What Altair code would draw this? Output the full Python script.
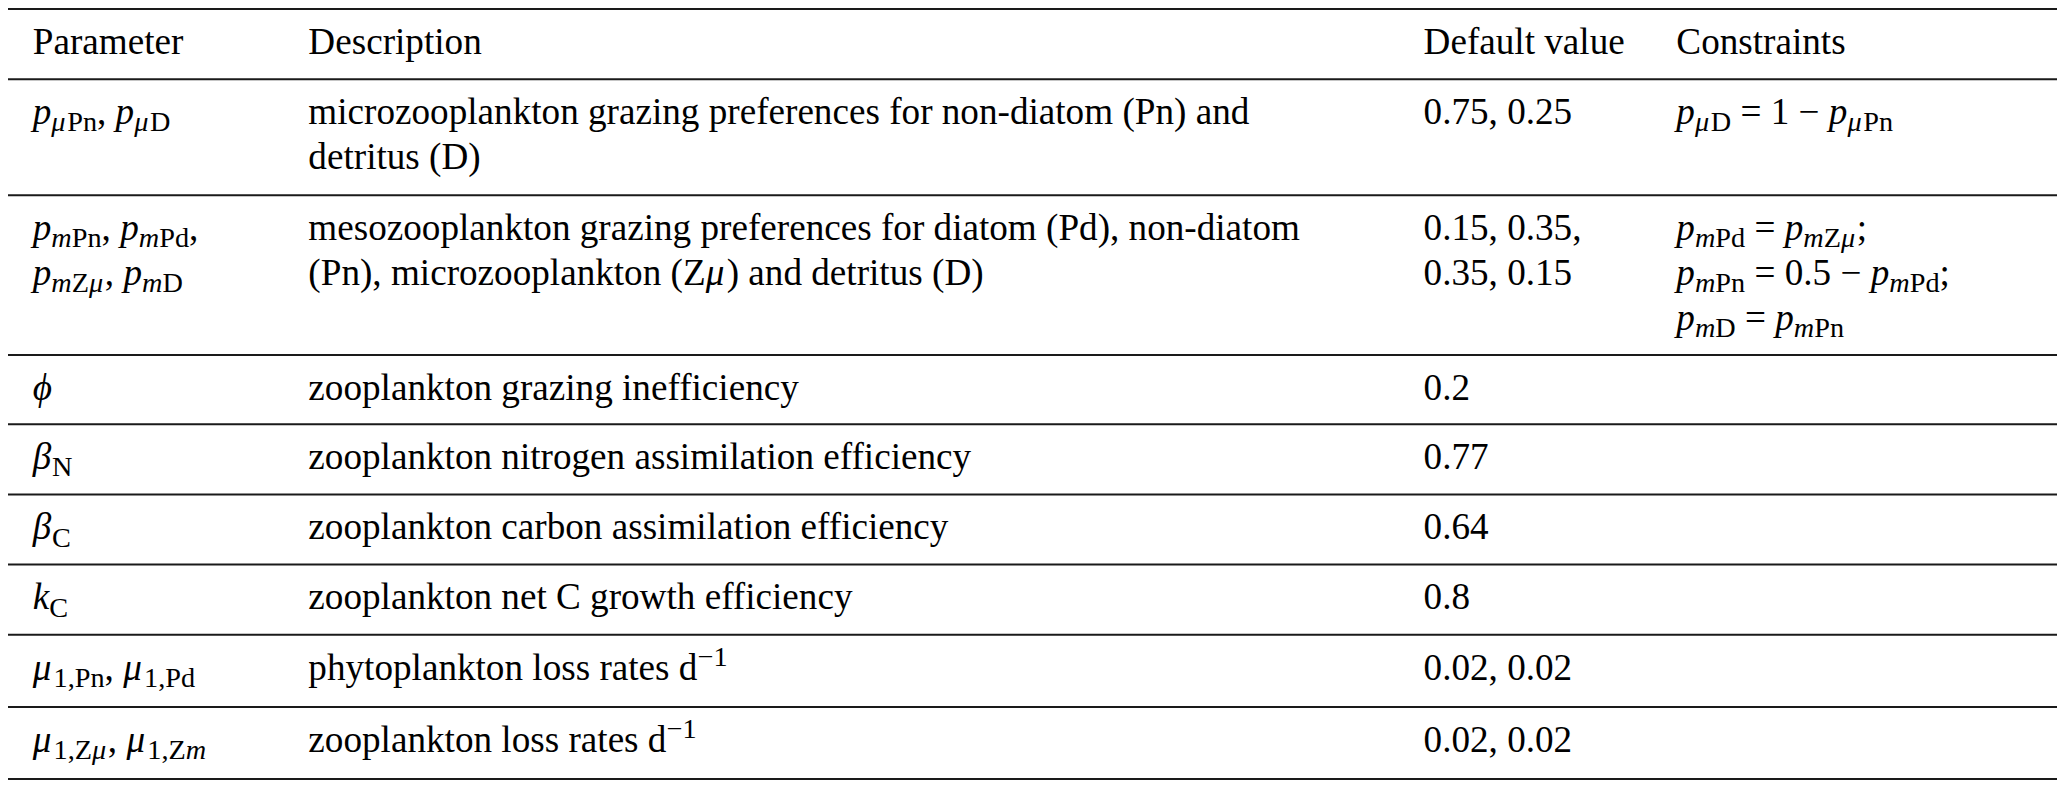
import altair as alt
import pandas as pd

# ---------------- table content ----------------
headers = ["Parameter", "Description", "Default value", "Constraints"]

parameters = [
    [r"$p_{μ\rm{Pn}}, p_{μ\rm{D}}$"],
    [r"$p_{m\rm{Pn}}, p_{m\rm{Pd}},$", r"$p_{m\rm{Z}μ}, p_{m\rm{D}}$"],
    [r"$ϕ$"],
    [r"$β_{\rm{N}}$"],
    [r"$β_{\rm{C}}$"],
    [r"$k_{\rm{C}}$"],
    [r"$μ_{1,\rm{Pn}}, μ_{1,\rm{Pd}}$"],
    [r"$μ_{1,\rm{Z}μ}, μ_{1,\rm{Z}m}$"],
]

descriptions = [
    ["microzooplankton grazing preferences for non-diatom (Pn) and", "detritus (D)"],
    ["mesozooplankton grazing preferences for diatom (Pd), non-diatom",
     "(Pn), microzooplankton (Z$μ$) and detritus (D)"],
    ["zooplankton grazing inefficiency"],
    ["zooplankton nitrogen assimilation efficiency"],
    ["zooplankton carbon assimilation efficiency"],
    ["zooplankton net C growth efficiency"],
    ["phytoplankton loss rates d$^{−1}$"],
    ["zooplankton loss rates d$^{−1}$"],
]

default_values = [
    ["0.75, 0.25"],
    ["0.15, 0.35,", "0.35, 0.15"],
    ["0.2"],
    ["0.77"],
    ["0.64"],
    ["0.8"],
    ["0.02, 0.02"],
    ["0.02, 0.02"],
]

constraints = [
    [r"$p_{μ\rm{D}} = 1 − p_{μ\rm{Pn}}$"],
    [r"$p_{m\rm{Pd}} = p_{m\rm{Z}μ};$", r"$p_{m\rm{Pn}} = 0.5 − p_{m\rm{Pd}};$",
     r"$p_{m\rm{D}} = p_{m\rm{Pn}}$"],
    [], [], [], [], [], [],
]

# ---------------- layout (reference pixel frame) ----------------
REF_W, REF_H = 2067, 794
W, H = 2049, 774
SX = W / REF_W
COL_X = [25, 303, 1428, 1683]
ROW_TOP = [1, 73, 192, 356, 427, 499, 571, 643, 717]
TABLE_BOTTOM = 791
FIRST_BASELINE = 46
LINE_GAP = 46
FS = 37.5
SUB_SCALE = 0.76
SUB_DY = 0.2
SUP_DY = -0.38

REG = {" ": 250, "(": 333, ")": 333, ",": 250, "-": 333, ".": 250, ";": 278,
       "=": 564, "−": 564, "A": 722, "C": 667, "D": 722, "N": 722, "P": 556,
       "Z": 611, "V": 722, "a": 444, "b": 500, "c": 444, "d": 500, "e": 444,
       "f": 333, "g": 500, "h": 500, "i": 278, "k": 500, "l": 278, "m": 778,
       "n": 500, "o": 500, "p": 500, "r": 333, "s": 389, "t": 278, "u": 500,
       "v": 500, "w": 722, "x": 500, "y": 500, "z": 444}
ITA = {"p": 500, "k": 444, "m": 722, "μ": 560, "β": 520, "ϕ": 620}


def char_w(c, italic):
    if c.isdigit():
        return 500
    t = ITA if italic else REG
    return t.get(c, REG.get(c, 500))


def parse(s):
    segs = []
    in_math = False
    stack = []
    level, rm = 0, False
    i = 0
    while i < len(s):
        c = s[i]
        if c == "$":
            in_math = not in_math
            i += 1
            continue
        if in_math:
            if s.startswith("_{", i):
                stack.append((level, rm)); level = -1; i += 2; continue
            if s.startswith("^{", i):
                stack.append((level, rm)); level = 1; i += 2; continue
            if s.startswith("\\rm{", i):
                stack.append((level, rm)); rm = True; i += 4; continue
            if c == "}":
                level, rm = stack.pop(); i += 1; continue
            italic = c.isalpha() and not rm
        else:
            italic = False
        if segs and segs[-1][1] == italic and segs[-1][2] == level:
            segs[-1][0] += c
        else:
            segs.append([c, italic, level])
        i += 1
    return segs


rows = [[[h] for h in headers]]
for r in range(len(parameters)):
    rows.append([parameters[r], descriptions[r], default_values[r], constraints[r]])

records = []
for r, row in enumerate(rows):
    for c, lines in enumerate(row):
        for k, line in enumerate(lines):
            base_y = ROW_TOP[r] + FIRST_BASELINE + k * LINE_GAP
            x = COL_X[c]
            for text, italic, level in parse(line):
                size = FS if level == 0 else FS * SUB_SCALE
                dy = 0 if level == 0 else (SUB_DY * FS if level < 0 else SUP_DY * FS)
                # leading spaces are collapsed by SVG: advance past them instead
                lead = len(text) - len(text.lstrip(" "))
                x += lead * char_w(" ", italic) / 1000 * size
                body = text.lstrip(" ")
                if body.strip():
                    records.append({"x": x, "y": base_y + dy, "text": body,
                                    "italic": italic, "size": size * SX})
                x += sum(char_w(ch, italic) for ch in body) / 1000 * size

seg_df = pd.DataFrame(records)
rule_df = pd.DataFrame({"y": ROW_TOP + [TABLE_BOTTOM]})

xs = alt.Scale(domain=[0, REF_W], nice=False, zero=False)
ys = alt.Scale(domain=[0, REF_H], nice=False, zero=False, reverse=True)

rules = alt.Chart(rule_df).mark_rule(color="#1a1a1a", strokeWidth=2).encode(
    y=alt.Y("y:Q", scale=ys, axis=None),
    x=alt.value(0),
    x2=alt.value(W),
)

base = alt.Chart(seg_df).encode(
    x=alt.X("x:Q", scale=xs, axis=None),
    y=alt.Y("y:Q", scale=ys, axis=None),
    text=alt.Text("text:N"),
    size=alt.Size("size:Q", scale=None, legend=None),
)

roman = base.transform_filter("datum.italic == false").mark_text(
    align="left", baseline="alphabetic", font="Liberation Serif", color="black")
italic = base.transform_filter("datum.italic == true").mark_text(
    align="left", baseline="alphabetic", font="Liberation Serif", fontStyle="italic",
    color="black")

chart = alt.layer(rules, roman, italic).properties(
    width=W, height=H, padding=0,
    autosize=alt.AutoSizeParams(type="none"),
).configure_view(stroke=None)

chart.save("out.html", embed_options={"renderer": "svg", "actions": False})
